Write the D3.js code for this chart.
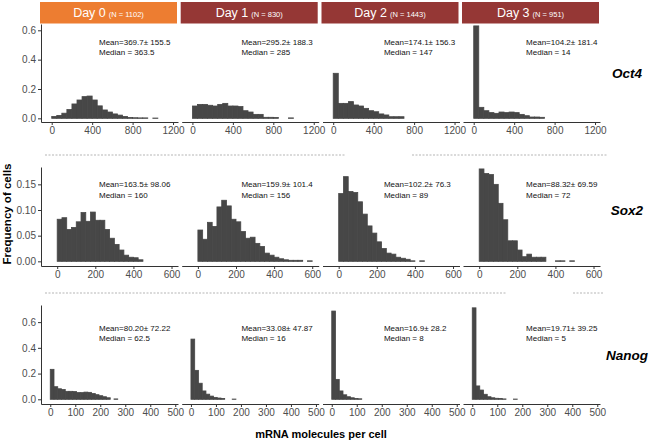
<!DOCTYPE html>
<html>
<head>
<meta charset="utf-8">
<script src="https://cdn.jsdelivr.net/npm/d3@7"></script>
<style>
  html, body { margin: 0; padding: 0; background: #fff; }
  svg { display: block; font-family: "Liberation Sans", Arial, sans-serif; }
</style>
</head>
<body>
<svg id="chart" width="655" height="445"></svg>
<script>
// ---------------- DATA ----------------
const days = ["Day 0", "Day 1", "Day 2", "Day 3"];
const cellCounts = ["(N = 1102)", "(N = 830)", "(N = 1443)", "(N = 951)"];
const genes = ["Oct4", "Sox2", "Nanog"];
const binWidths = [50, 25, 15];

const oct4XTicks = [0, 400, 800, 1200];
const sox2XTicks = [0, 200, 400, 600];
const nanogXTicks = [0, 100, 200, 300, 400, 500];
const oct4YTicks = [0.0, 0.2, 0.4, 0.6];
const sox2YTicks = [0.00, 0.05, 0.10, 0.15];
const nanogYTicks = [0.0, 0.2, 0.4, 0.6];

// frequency of cells per bin (bins start at 0)
const oct4Day0 = [0.013, 0.020, 0.035, 0.060, 0.098, 0.125, 0.148, 0.152, 0.125, 0.085, 0.057, 0.043, 0.030, 0.022, 0.013, 0.005, 0.004, 0.003, 0.003, 0, 0.002];
const oct4Day1 = [0.084, 0.095, 0.095, 0.089, 0.084, 0.095, 0.102, 0.084, 0.084, 0.080, 0.052, 0.043, 0.027, 0.027, 0.007, 0.007, 0.005, 0, 0, 0.003];
const oct4Day2 = [0.307, 0.102, 0.102, 0.114, 0.091, 0.084, 0.068, 0.052, 0.045, 0.030, 0.023, 0.011, 0.011, 0.011];
const oct4Day3 = [0.630, 0.075, 0.052, 0.039, 0.034, 0.043, 0.039, 0.043, 0.039, 0.027, 0.018, 0.009, 0.009, 0.007];

const sox2Day0 = [0.082, 0.085, 0.062, 0.066, 0.077, 0.095, 0.078, 0.096, 0.080, 0.080, 0.062, 0.045, 0.033, 0.022, 0.012, 0.008, 0.007, 0.003];
const sox2Day1 = [0.061, 0.043, 0.076, 0.068, 0.106, 0.119, 0.108, 0.082, 0.077, 0.058, 0.045, 0.047, 0.035, 0.029, 0.016, 0.012, 0.008, 0.005, 0.003, 0.002, 0.002, 0.002, 0, 0.001];
const sox2Day2 = [0.132, 0.165, 0.136, 0.134, 0.116, 0.092, 0.069, 0.055, 0.038, 0.025, 0.016, 0.014, 0.008, 0.006, 0.004, 0.001, 0, 0.001];
const sox2Day3 = [0.180, 0.171, 0.169, 0.150, 0.113, 0.081, 0.040, 0.040, 0.022, 0.009, 0.014, 0.008, 0.008, 0.008, 0, 0, 0.001, 0.001, 0, 0.001];

const nanogDay0 = [0.233, 0.098, 0.082, 0.076, 0.062, 0.062, 0.060, 0.052, 0.052, 0.056, 0.054, 0.045, 0.036, 0.028, 0.020, 0.012, 0, 0.003];
const nanogDay1 = [0.468, 0.225, 0.125, 0.065, 0.040, 0.025, 0.015, 0.010, 0.006, 0, 0, 0.002];
const nanogDay2 = [0.686, 0.155, 0.065, 0.035, 0.020, 0.012, 0.006, 0.004];
const nanogDay3 = [0.711, 0.104, 0.072, 0.039, 0.020, 0.012, 0.008, 0.006, 0.003, 0, 0, 0.002];

const oct4Means = ["369.7", "295.2", "174.1", "104.2"];
const oct4Sds = ["155.5", "188.3", "156.3", "181.4"];
const oct4Medians = ["363.5", "285", "147", "14"];
const sox2Means = ["163.5", "159.9", "102.2", "88.32"];
const sox2Sds = ["98.06", "101.4", "76.3", "69.59"];
const sox2Medians = ["160", "156", "89", "72"];
const nanogMeans = ["80.20", "33.08", "16.9", "19.71"];
const nanogSds = ["72.22", "47.87", "28.2", "39.25"];
const nanogMedians = ["62.5", "16", "8", "5"];

// ---------------- LAYOUT ----------------
const rowsCfg = [
  { gene: "Oct4", series: [oct4Day0, oct4Day1, oct4Day2, oct4Day3], bw: binWidths[0],
    xTicks: oct4XTicks, yTicks: oct4YTicks, yFmt: d3.format(".1f"),
    xDomain: [-106, 1249], yDomain: [-0.025, 0.643], top: 24, bottom: 122,
    means: oct4Means, sds: oct4Sds, medians: oct4Medians, txtDy: 17.7, labelY: 78 },
  { gene: "Sox2", series: [sox2Day0, sox2Day1, sox2Day2, sox2Day3], bw: binWidths[1],
    xTicks: sox2XTicks, yTicks: sox2YTicks, yFmt: d3.format(".2f"),
    xDomain: [-85, 634], yDomain: [-0.0091, 0.1838], top: 167, bottom: 266,
    means: sox2Means, sds: sox2Sds, medians: sox2Medians, txtDy: 17.3, labelY: 215 },
  { gene: "Nanog", series: [nanogDay0, nanogDay1, nanogDay2, nanogDay3], bw: binWidths[2],
    xTicks: nanogXTicks, yTicks: nanogYTicks, yFmt: d3.format(".1f"),
    xDomain: [-37, 511], yDomain: [-0.0365, 0.733], top: 305, bottom: 404,
    means: nanogMeans, sds: nanogSds, medians: nanogMedians, txtDy: 22.7, labelY: 360 }
];

const panelLefts = [41, 181.7, 322.5, 463];
const panelW = 137;
const barColor = "#474747";
const axisColor = "#333333";
const tickTextColor = "#4d4d4d";

const svg = d3.select("#chart");

// strips
const stripColors = ["#ED7D31", "#953735", "#953735", "#953735"];
days.forEach((d, i) => {
  const g = svg.append("g");
  g.append("rect")
    .attr("x", panelLefts[i] - 1).attr("y", 2)
    .attr("width", panelW).attr("height", 21.5)
    .attr("fill", stripColors[i]);
  const t = g.append("text")
    .attr("x", panelLefts[i] - 1 + panelW / 2).attr("y", 17)
    .attr("text-anchor", "middle").attr("fill", "#fff");
  t.append("tspan").attr("font-size", "12.5px").text(d);
  t.append("tspan").attr("font-size", "7.5px").attr("dx", 3).text(cellCounts[i]);
});

// panels
rowsCfg.forEach((row, r) => {
  const y = d3.scaleLinear().domain(row.yDomain).range([row.bottom, row.top]);
  row.series.forEach((vals, c) => {
    const left = panelLefts[c];
    const x = d3.scaleLinear().domain(row.xDomain).range([left, left + panelW]);
    const g = svg.append("g");
    const bins = vals.map((v, k) => ({ x0: k * row.bw, x1: (k + 1) * row.bw, v }))
      .filter(b => b.v > 0);
    g.selectAll("rect.bar").data(bins).enter().append("rect")
      .attr("class", "bar")
      .attr("x", b => x(b.x0))
      .attr("width", b => x(b.x1) - x(b.x0))
      .attr("y", b => y(b.v))
      .attr("height", b => y(0) - y(b.v))
      .attr("fill", barColor)
      .attr("stroke", barColor).attr("stroke-width", 0.8);

    // x axis
    const xAxis = d3.axisBottom(x).tickValues(row.xTicks).tickFormat(d3.format("d"))
      .tickSize(3).tickPadding(2).tickSizeOuter(0);
    const ax = g.append("g").attr("transform", `translate(0,${row.bottom})`).call(xAxis);
    ax.select(".domain").attr("stroke", axisColor).attr("stroke-width", 1);
    ax.selectAll(".tick line").attr("stroke", axisColor);
    ax.selectAll(".tick text").attr("fill", tickTextColor).attr("font-size", "10px")
      .attr("font-family", "Liberation Sans, Arial, sans-serif");

    // y axis only first column
    if (c === 0) {
      const yAxis = d3.axisLeft(y).tickValues(row.yTicks).tickFormat(row.yFmt).tickSize(3).tickPadding(2).tickSizeOuter(0);
      const ay = g.append("g").attr("transform", `translate(${left},0)`).call(yAxis);
      ay.select(".domain").attr("stroke", axisColor).attr("stroke-width", 1);
      ay.selectAll(".tick line").attr("stroke", axisColor);
      ay.selectAll(".tick text").attr("fill", tickTextColor).attr("font-size", "10px")
        .attr("font-family", "Liberation Sans, Arial, sans-serif");
    }

    // annotations
    const tx = left + 58 + c * 1.7;
    const ty = row.top + row.txtDy + 3;
    g.append("text").attr("x", tx).attr("y", ty).attr("font-size", "8px").attr("fill", "#111")
      .text(`Mean=${row.means[c]}\u00b1 ${row.sds[c]}`);
    g.append("text").attr("x", tx).attr("y", ty + 10.6).attr("font-size", "8px").attr("fill", "#111")
      .text(`Median = ${row.medians[c]}`);
  });

  // row label
  svg.append("text").attr("x", 627).attr("y", row.labelY)
    .attr("text-anchor", "middle").attr("font-size", "13.5px")
    .attr("font-weight", "bold").attr("font-style", "italic").attr("fill", "#000")
    .text(row.gene);
});

// separators
const sepSegments = [[155, 45, 345], [155, 412, 608], [293, 45, 507], [293, 573, 603]];
sepSegments.forEach(s => {
  svg.append("line").attr("x1", s[1]).attr("x2", s[2]).attr("y1", s[0]).attr("y2", s[0])
    .attr("stroke", "#b5b5b5").attr("stroke-width", 1).attr("stroke-dasharray", "2,1.5");
});

// axis titles
svg.append("text").attr("transform", "translate(11,214) rotate(-90)")
  .attr("text-anchor", "middle").attr("font-size", "11.5px").attr("font-weight", "bold")
  .text("Frequency of cells");
svg.append("text").attr("x", 321).attr("y", 438)
  .attr("text-anchor", "middle").attr("font-size", "11px").attr("font-weight", "bold")
  .text("mRNA molecules per cell");
</script>
</body>
</html>
